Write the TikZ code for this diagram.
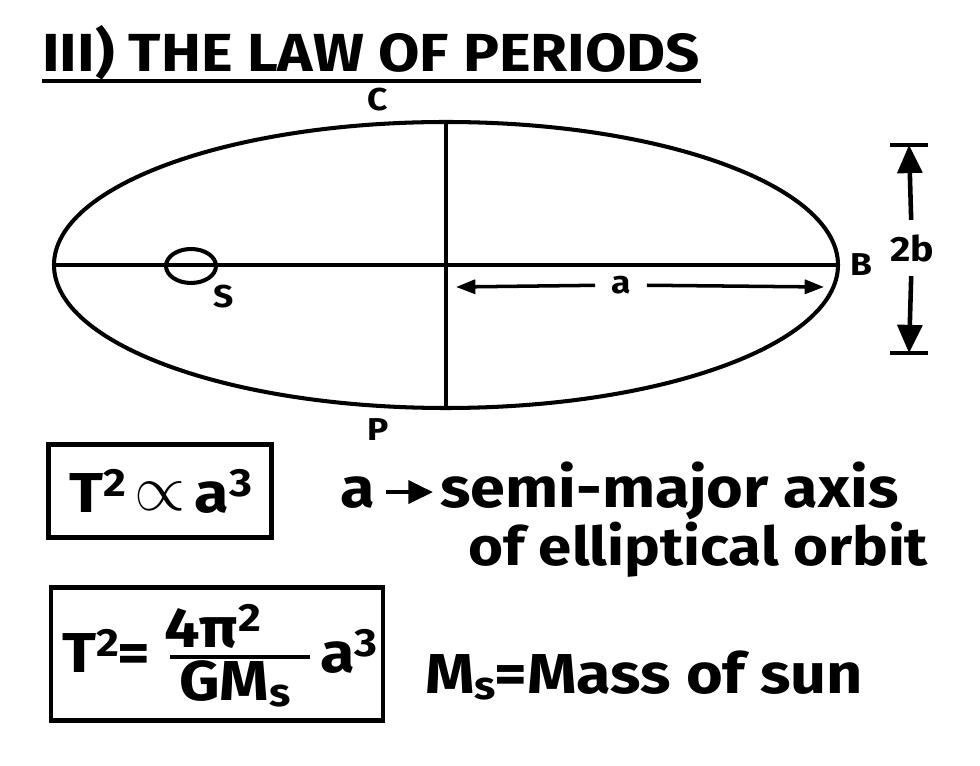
\documentclass[tikz,border=0pt]{standalone}
\usepackage{fontspec}
\setmainfont{Fira Sans}[FakeStretch=1.12]
\usetikzlibrary{arrows.meta,positioning}

\tikzset{
  orbit/.style={line width=2.3pt},
  lbl/.style={font=\bfseries\fontsize{18}{20}\selectfont, inner sep=0pt},
  big/.style={font=\bfseries\fontsize{32}{36}\selectfont, inner sep=0pt},
  lawbox/.style={draw, line width=2.6pt, minimum width=#1, inner sep=0pt},
  dimarrow/.style={line width=2.6pt, -{Triangle[length=16pt,width=14pt]}},
  axarrow/.style={line width=2pt, -{Triangle[length=11pt,width=8pt]}}
}

\begin{document}
\begin{tikzpicture}[x=0.02cm,y=-0.02cm]
  \useasboundingbox (0,0) rectangle (980,766);

  % title
  \node[anchor=base west, inner sep=0pt, font=\bfseries\fontsize{30.5}{33}\selectfont] (title) at (42,72) {III) THE LAW OF PERIODS};
  \draw[line width=2.4pt] ([yshift=-5pt]title.base west) -- ([yshift=-5pt]title.base east);

  % orbit and axes
  \coordinate (O)  at (446,265);
  \coordinate (L)  at (54,265);
  \coordinate (R)  at (838,265);
  \coordinate (Tp) at (446,122);
  \coordinate (Bt) at (446,408);
  \draw[orbit] (O) ellipse [x radius=392, y radius=143];
  \draw[orbit] (L) -- (R);
  \draw[orbit] (Tp) -- (Bt);

  % sun
  \coordinate (sun) at (191,266);
  \draw[orbit] (sun) ellipse [x radius=25, y radius=17];

  % point labels
  \node[lbl] (S) at (224,297) {S};
  \node[lbl] (C) at (378,100) {C};
  \node[lbl] (P) at (378,430) {P};
  \node[lbl] (B) at (861,265) {B};

  % semi-major axis a
  \coordinate (a1) at (456,287);
  \coordinate (a2) at (824,287);
  \node[lbl, inner xsep=9pt] (alab) at (621,285) {a};
  \draw[axarrow] (alab) -- (a1);
  \draw[axarrow] (alab) -- (a2);

  % 2b
  \coordinate (bTop) at (909,145);
  \coordinate (bBot) at (909,353);
  \draw[line width=2.4pt] (890,145) -- (928,145);
  \draw[line width=2.4pt] (890,353) -- (928,353);
  \node[lbl, font=\bfseries\fontsize{20}{22}\selectfont, inner ysep=8pt] (twob) at (912,248) {2b};
  \draw[dimarrow] (twob) -- (bTop);
  \draw[dimarrow] (twob) -- (bBot);

  % first law box
  \node[lawbox=127pt, minimum height=53pt, big] (law1) at (160,491) {T$^{\mathbf 2}$\,\raisebox{1pt}{\scalebox{1.5}{$\propto$}}\,a$^{\mathbf 3}$};

  % second law box
  \node[lawbox=189pt, minimum height=76pt] (law2) at (217,654) {};
  \node[big, anchor=base west] (T2) at (62,672) {T$^{\mathbf 2}$=};
  \node[big] (num) at (212,626) {4π$^{\mathbf 2}$};
  \node[big] (den) at (234,684) {GM$_{\mathbf s}$};
  \draw[line width=2.6pt] (170,657) -- (310,657);
  \node[big, anchor=base west] (a3) at (320,672) {a$^{\mathbf 3}$};

  % descriptions
  \node[big, anchor=base west] (adesc) at (340,507) {a};
  \node[big, anchor=base west] (semi) at (440,507) {semi-major axis};
  \node[big, anchor=base west, font=\bfseries\fontsize{30.5}{34}\selectfont] (ell) at (468,565) {of elliptical orbit};
  \draw[line width=2.4pt, -{Triangle[length=14pt,width=13pt]}] (adesc.east) ++(6pt,0) -- ([xshift=-4pt]semi.west |- adesc.east);
  \node[big, anchor=base west] (mass) at (425,693) {M$_{\mathbf s}$=Mass of sun};
\end{tikzpicture}
\end{document}
